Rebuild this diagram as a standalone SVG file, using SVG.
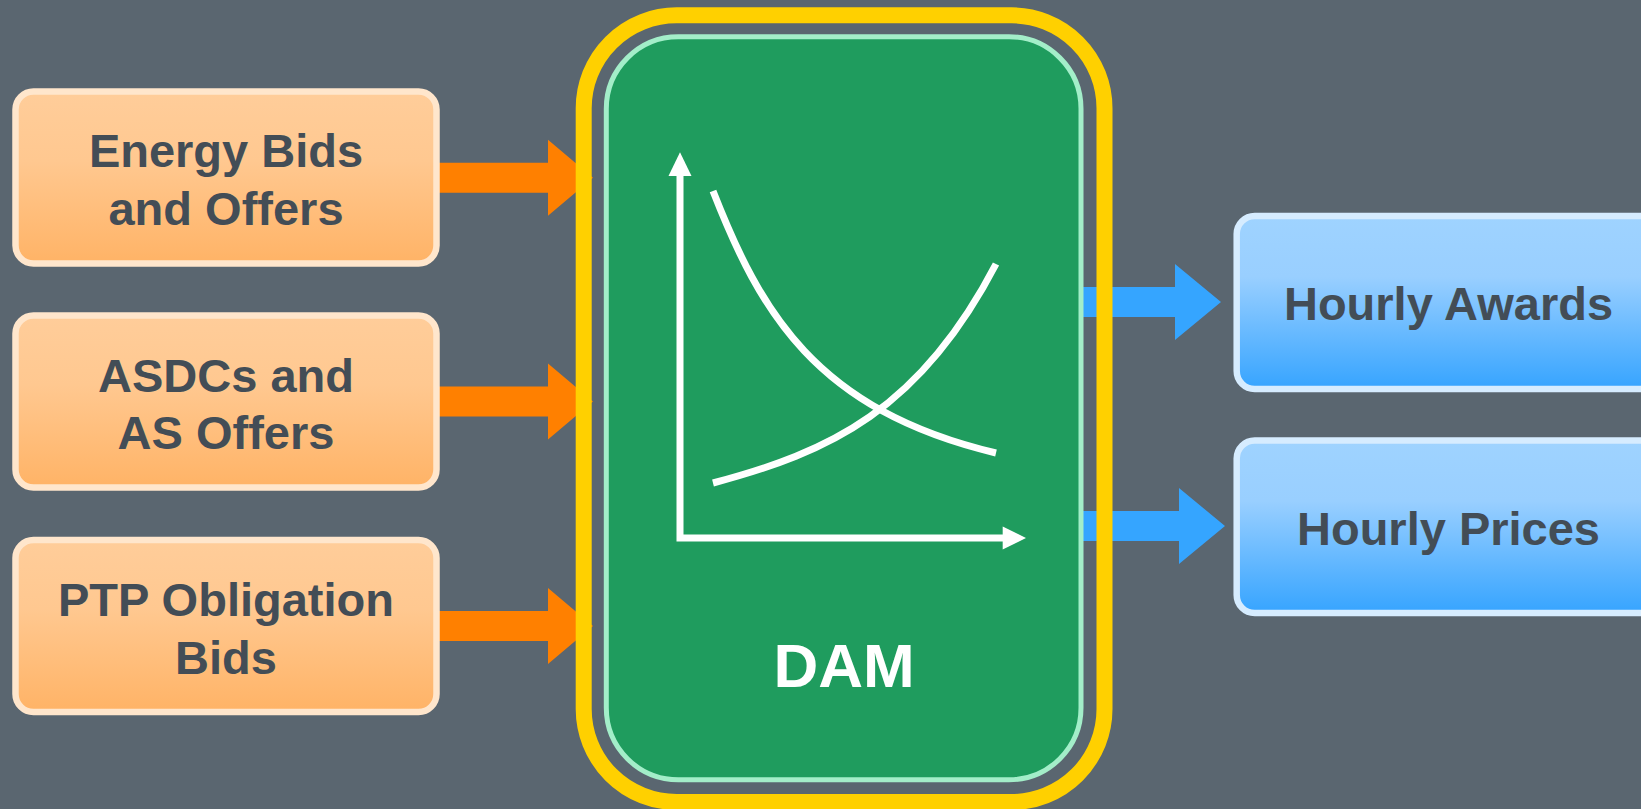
<svg xmlns="http://www.w3.org/2000/svg" width="1641" height="809" viewBox="0 0 1641 809">
<defs>
<linearGradient id="gOr" x1="0" y1="0" x2="0" y2="1">
<stop offset="0" stop-color="#ffcd9a"/>
<stop offset="0.4" stop-color="#ffc890"/>
<stop offset="1" stop-color="#ffb366"/>
</linearGradient>
<linearGradient id="gBl" x1="0" y1="0" x2="0" y2="1">
<stop offset="0" stop-color="#9fd3ff"/>
<stop offset="0.35" stop-color="#99cfff"/>
<stop offset="1" stop-color="#36a4ff"/>
</linearGradient>
<style>
.in rect{fill:url(#gOr);stroke:#ffe6cc;stroke-width:6.5}
.out rect{fill:url(#gBl);stroke:#d6ecff;stroke-width:6.5}
.lbl{font-family:"Liberation Sans",Arial,sans-serif;font-weight:bold;font-size:47px;fill:#434d56;text-anchor:middle}
.orA{fill:#ff8000}
.blA{fill:#35a5ff}
.ax{stroke:#ffffff;stroke-width:7;fill:none}
.cv{stroke:#ffffff;stroke-width:7;fill:none;stroke-linecap:butt}
</style>
</defs>
<rect x="0" y="0" width="1641" height="809" fill="#5a6670"/>
<g id="connectors">
<polygon class="orA" points="436,162.7 548,162.7 548,139.7 593,177.7 548,215.7 548,192.7 436,192.7"/>
<polygon class="orA" points="436,386.5 548,386.5 548,363.5 593,401.5 548,439.5 548,416.5 436,416.5"/>
<polygon class="orA" points="436,611 548,611 548,588 593,626 548,664 548,641 436,641"/>
<polygon class="blA" points="1080,287 1175,287 1175,264 1221,302 1175,340 1175,317 1080,317"/>
<polygon class="blA" points="1080,511 1179,511 1179,488 1225,526 1179,564 1179,541 1080,541"/>
</g>
<g id="dam">
<rect x="606.3" y="36.8" width="474.7" height="743" rx="72" ry="72" fill="#1f9c5e" stroke="#a3eec9" stroke-width="5"/>
<rect x="583.7" y="15.3" width="520.8" height="786.7" rx="93" ry="93" fill="none" stroke="#ffd000" stroke-width="16"/>
<polyline class="ax" points="680,176 680,538 1003,538"/>
<polygon points="680,152.3 691.5,176 668.5,176" fill="#ffffff"/>
<polygon points="1026,538 1002.7,549.5 1002.7,526.5" fill="#ffffff"/>
<path class="cv" d="M713,191 C760,311 815,410 996,453"/>
<path class="cv" d="M713,483 C830,452 920,410 996,264"/>
<text x="844" y="687" font-family="'Liberation Sans',Arial,sans-serif" font-weight="bold" font-size="62" fill="#ffffff" text-anchor="middle">DAM</text>
</g>
<g id="energy" class="in">
<rect x="15.5" y="91.5" width="421" height="172" rx="18" ry="18"/>
<text class="lbl" x="226" y="167">Energy Bids</text>
<text class="lbl" x="226" y="225">and Offers</text>
</g>
<g id="asdc" class="in">
<rect x="15.5" y="315.5" width="421" height="172" rx="18" ry="18"/>
<text class="lbl" x="226" y="391.5">ASDCs and</text>
<text class="lbl" x="226" y="449">AS Offers</text>
</g>
<g id="ptp" class="in">
<rect x="15.5" y="540" width="421" height="172" rx="18" ry="18"/>
<text class="lbl" x="226" y="616">PTP Obligation</text>
<text class="lbl" x="226" y="673.5">Bids</text>
</g>
<g id="awards" class="out">
<rect x="1236.7" y="216" width="423" height="173" rx="18" ry="18"/>
<text class="lbl" x="1448.5" y="320">Hourly Awards</text>
</g>
<g id="prices" class="out">
<rect x="1236.7" y="440.5" width="423" height="172.5" rx="18" ry="18"/>
<text class="lbl" x="1448.5" y="545">Hourly Prices</text>
</g>
</svg>
